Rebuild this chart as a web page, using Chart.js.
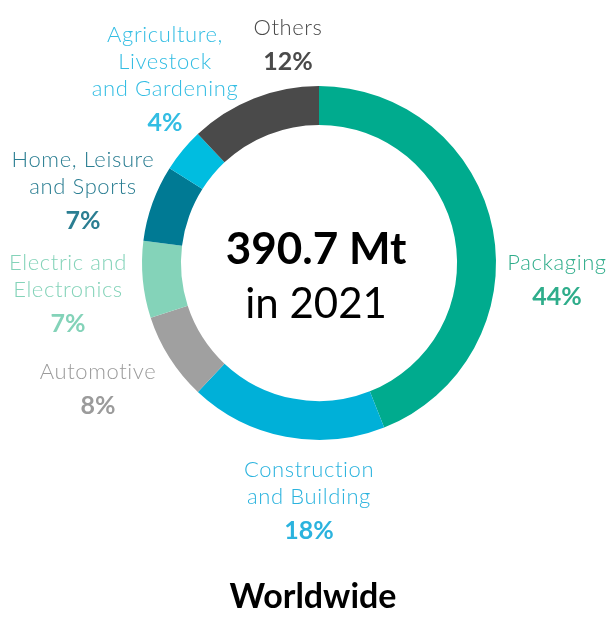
<!DOCTYPE html>
<html lang="en">
<head>
    <meta charset="UTF-8">
    <title>Plastics demand by segment - Worldwide</title>
    <script src="https://cdn.jsdelivr.net/npm/chart.js"></script>
    <style>
        html, body { margin: 0; padding: 0; background: #fff; }
        #wrap { width: 615px; height: 621px; position: relative; }
    </style>
</head>
<body>
    <div id="wrap"><canvas id="donut"></canvas></div>

    <script>
        // data
        const segments = ['Packaging', 'Construction and Building', 'Automotive', 'Electric and Electronics',
                          'Home, Leisure and Sports', 'Agriculture, Livestock and Gardening', 'Others'];
        const labelLines = [['Packaging'], ['Construction', 'and Building'], ['Automotive'],
                            ['Electric and', 'Electronics'], ['Home, Leisure', 'and Sports'],
                            ['Agriculture,', 'Livestock', 'and Gardening'], ['Others']];
        const shares = [44, 18, 8, 7, 7, 4, 12];
        const totalText = '390.7 Mt';
        const yearText = 'in 2021';
        const regionText = 'Worldwide';

        // styles
        const sliceColors = ['#00ab8e', '#00b0d8', '#a0a0a0', '#84d3b9', '#007a94', '#00bde0', '#4a4a4a'];
        const textColors  = ['#2fad8b', '#2bb3de', '#9b9b9b', '#84d3b9', '#2b7e92', '#33bde3', '#4a4a4a'];
        // label anchor (first line centre) relative to the doughnut centre
        const labelAnchor = [[238, 0], [-10, 207], [-221, 109], [-251, 0], [-236, -103], [-154, -228], [-31, -235]];
        const FONT = 'Lato, "Open Sans", sans-serif';

        const labelPlugin = {
            id: 'labels',
            afterDraw(chart) {
                const ctx = chart.ctx;
                const arc = chart.getDatasetMeta(0).data[0];
                const cx = arc.x, cy = arc.y;
                ctx.save();
                ctx.textAlign = 'center';
                ctx.textBaseline = 'middle';

                labelLines.forEach((lines, i) => {
                    const x = cx + labelAnchor[i][0];
                    let y = cy + labelAnchor[i][1];
                    ctx.fillStyle = textColors[i];
                    ctx.font = '300 22px ' + FONT;
                    ctx.letterSpacing = '0.6px';
                    lines.forEach((t, k) => ctx.fillText(t, x, y + k * 27));
                    y += (lines.length - 1) * 27 + 34;
                    ctx.letterSpacing = '0px';
                    ctx.font = 'bold 25px ' + FONT;
                    ctx.fillText(shares[i] + '%', x, y);
                });

                // centre text
                ctx.fillStyle = '#000';
                ctx.font = 'bold 44px ' + FONT;
                ctx.fillText(totalText, cx - 3, cy - 13);
                ctx.font = '400 42px ' + FONT;
                ctx.fillText(yearText, cx - 3, cy + 41);

                // region title
                ctx.font = 'bold 34px ' + FONT;
                ctx.fillText(regionText, cx - 6, cy + 334);
                ctx.restore();
            }
        };

        new Chart(document.getElementById('donut'), {
            type: 'doughnut',
            data: {
                labels: segments,
                datasets: [{
                    data: shares,
                    backgroundColor: sliceColors,
                    borderWidth: 0
                }]
            },
            options: {
                responsive: true,
                maintainAspectRatio: false,
                animation: false,
                cutout: '78%',
                layout: { padding: { left: 142, right: 119, top: 86, bottom: 181 } },
                plugins: {
                    legend: { display: false },
                    tooltip: { enabled: false }
                }
            },
            plugins: [labelPlugin]
        });
    </script>
</body>
</html>
